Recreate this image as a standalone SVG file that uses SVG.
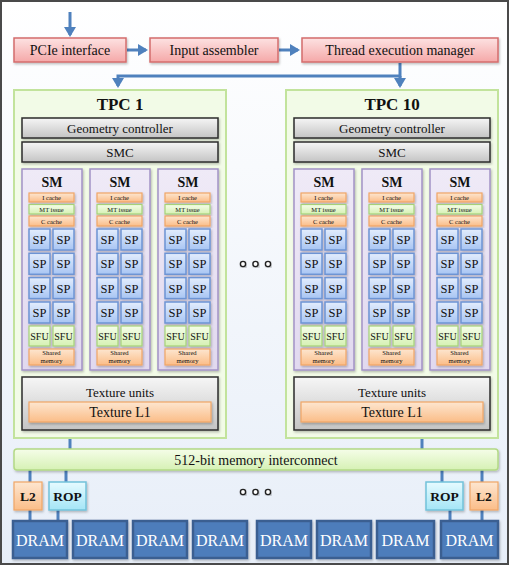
<svg xmlns="http://www.w3.org/2000/svg" width="509" height="565" viewBox="0 0 509 565">
<defs>
<linearGradient id="gBg" x1="0" y1="0" x2="0" y2="1"><stop offset="0" stop-color="#ffffff"/><stop offset="1" stop-color="#e7eef8"/></linearGradient>
<linearGradient id="gPink" x1="0" y1="0" x2="0" y2="1"><stop offset="0" stop-color="#fde2e2"/><stop offset="1" stop-color="#f5a8a8"/></linearGradient>
<linearGradient id="gGray" x1="0" y1="0" x2="0" y2="1"><stop offset="0" stop-color="#f6f6f6"/><stop offset="1" stop-color="#c4c4c4"/></linearGradient>
<linearGradient id="gOrange" x1="0" y1="0" x2="0" y2="1"><stop offset="0" stop-color="#fde6d0"/><stop offset="1" stop-color="#fbbd88"/></linearGradient>
<linearGradient id="gGreen" x1="0" y1="0" x2="0" y2="1"><stop offset="0" stop-color="#f5fde9"/><stop offset="1" stop-color="#d6f1b4"/></linearGradient>
<linearGradient id="gBlue" x1="0" y1="0" x2="0" y2="1"><stop offset="0" stop-color="#e3edfd"/><stop offset="1" stop-color="#a8c5f3"/></linearGradient>
<linearGradient id="gCyan" x1="0" y1="0" x2="0" y2="1"><stop offset="0" stop-color="#e6fbff"/><stop offset="1" stop-color="#a4e5f6"/></linearGradient>
<linearGradient id="gSm" x1="0" y1="0" x2="0" y2="1"><stop offset="0" stop-color="#efeaf7"/><stop offset="1" stop-color="#e1d9ef"/></linearGradient>
<filter id="sh" x="-20%" y="-20%" width="140%" height="140%"><feDropShadow dx="1" dy="1.5" stdDeviation="1" flood-color="#000" flood-opacity="0.25"/></filter>
<marker id="arr" markerUnits="userSpaceOnUse" markerWidth="12" markerHeight="12" refX="8" refY="6" orient="auto"><path d="M0,0 L10,6 L0,12 z" fill="#4f81bd"/></marker>
<style>
text{font-family:"Liberation Serif","Times New Roman",serif;text-anchor:middle;fill:#111}
.b{font-weight:bold}
.pink{fill:url(#gPink);stroke:#d46c6c;stroke-width:1.5;filter:url(#sh)}
.tpc{fill:#f2fbe7;stroke:#c2e39c;stroke-width:2}
.gray{fill:url(#gGray);stroke:#2b2b2b;stroke-width:1.5;filter:url(#sh)}
.sm{fill:url(#gSm);stroke:#a292c6;stroke-width:1.5;filter:url(#sh)}
.or{fill:url(#gOrange);stroke:#f0a666;stroke-width:1.2;filter:url(#sh)}
.gr{fill:url(#gGreen);stroke:#a6d278;stroke-width:1.2;filter:url(#sh)}
.sp{fill:url(#gBlue);stroke:#6d94d4;stroke-width:1.5;filter:url(#sh)}
.rop{fill:url(#gCyan);stroke:#72c2da;stroke-width:1.5;filter:url(#sh)}
.dram{fill:#4e7dbb;stroke:#3b5f91;stroke-width:2.5;filter:url(#sh)}
.ic{fill:url(#gGreen);stroke:#b3d985;stroke-width:1.5;filter:url(#sh)}
.conn{stroke:#4f81bd;stroke-width:3;fill:none}
.dot{fill:#fff;stroke:#222;stroke-width:1.4;filter:url(#sh)}
.t14{font-size:14px}
.t13{font-size:13px}
.tc{font-size:6.5px}
.tsp{font-size:12.5px}
.tsfu{font-size:10px}
.tsh{font-size:6.6px}
.dt{font-size:16px;fill:#fff}
</style>
</defs>
<rect x="1" y="1" width="507" height="563" fill="url(#gBg)" stroke="#4a4a4a" stroke-width="2"/>

<g id="connectors">
<line class="conn" x1="70" y1="12" x2="70" y2="35" marker-end="url(#arr)"/>
<line class="conn" x1="127" y1="50" x2="146" y2="50" marker-end="url(#arr)"/>
<line class="conn" x1="279" y1="50" x2="298" y2="50" marker-end="url(#arr)"/>
<path class="conn" d="M400,63 V76 H118 V86" marker-end="url(#arr)"/>
<line class="conn" x1="400" y1="76" x2="400" y2="86" marker-end="url(#arr)"/>
<line class="conn" x1="70" y1="438" x2="70" y2="450"/>
<line class="conn" x1="422" y1="438" x2="422" y2="450"/>
<line class="conn" x1="30" y1="470" x2="30" y2="482"/>
<line class="conn" x1="66" y1="470" x2="66" y2="482"/>
<line class="conn" x1="30" y1="510" x2="30" y2="521"/>
<line class="conn" x1="58" y1="510" x2="58" y2="521"/>
<line class="conn" x1="442" y1="470" x2="442" y2="482"/>
<line class="conn" x1="482" y1="470" x2="482" y2="482"/>
<line class="conn" x1="450" y1="510" x2="450" y2="521"/>
<line class="conn" x1="482" y1="510" x2="482" y2="521"/>
</g>

<g id="pcie"><rect class="pink" x="14" y="38" width="112" height="24"/><text class="t14" x="70" y="55">PCIe interface</text></g>
<g id="input-assembler"><rect class="pink" x="150" y="38" width="128" height="24"/><text class="t14" x="214" y="55">Input assembler</text></g>
<g id="thread-manager"><rect class="pink" x="302" y="38" width="196" height="24"/><text class="t14" x="400" y="55">Thread execution manager</text></g>

<g id="tpc1">
<rect class="tpc" x="14" y="90" width="212" height="348"/>
<text class="b" x="120" y="110" font-size="17">TPC 1</text>
<rect class="gray" x="22" y="118" width="196" height="20"/><text class="t13" x="120" y="133">Geometry controller</text>
<rect class="gray" x="22" y="142" width="196" height="20"/><text class="t13" x="120" y="157">SMC</text>
<rect class="gray" x="22" y="377" width="196" height="53"/><text class="t13" x="120" y="397">Texture units</text>
<rect class="or" x="29" y="402" width="182" height="20"/><text class="t14" x="120" y="417">Texture L1</text>
</g>

<g id="tpc10">
<rect class="tpc" x="286" y="90" width="212" height="348"/>
<text class="b" x="392" y="110" font-size="17">TPC 10</text>
<rect class="gray" x="294" y="118" width="196" height="20"/><text class="t13" x="392" y="133">Geometry controller</text>
<rect class="gray" x="294" y="142" width="196" height="20"/><text class="t13" x="392" y="157">SMC</text>
<rect class="gray" x="294" y="377" width="196" height="53"/><text class="t13" x="392" y="397">Texture units</text>
<rect class="or" x="301" y="402" width="182" height="20"/><text class="t14" x="392" y="417">Texture L1</text>
</g>

<g id="sm-1-1" transform="translate(22,0)">
<rect class="sm" x="0" y="169" width="60" height="201"/>
<text class="b" x="30" y="187" font-size="14">SM</text>
<rect class="or" x="7" y="193" width="45" height="9"/><text class="tc" x="29.5" y="200">I cache</text>
<rect class="gr" x="7" y="204.5" width="45" height="9.5"/><text class="tc" x="29.5" y="211.5">MT issue</text>
<rect class="or" x="7" y="216" width="45" height="10"/><text class="tc" x="29.5" y="223.5">C cache</text>
<rect class="sp" x="7" y="229" width="21" height="21"/><text class="tsp" x="17.5" y="244">SP</text>
<rect class="sp" x="31" y="229" width="21" height="21"/><text class="tsp" x="41.5" y="244">SP</text>
<rect class="sp" x="7" y="253.3" width="21" height="21"/><text class="tsp" x="17.5" y="268.3">SP</text>
<rect class="sp" x="31" y="253.3" width="21" height="21"/><text class="tsp" x="41.5" y="268.3">SP</text>
<rect class="sp" x="7" y="277.6" width="21" height="21"/><text class="tsp" x="17.5" y="292.6">SP</text>
<rect class="sp" x="31" y="277.6" width="21" height="21"/><text class="tsp" x="41.5" y="292.6">SP</text>
<rect class="sp" x="7" y="302" width="21" height="21"/><text class="tsp" x="17.5" y="317">SP</text>
<rect class="sp" x="31" y="302" width="21" height="21"/><text class="tsp" x="41.5" y="317">SP</text>
<rect class="gr" x="7" y="326" width="21" height="20"/><text class="tsfu" x="17.5" y="340">SFU</text>
<rect class="gr" x="31" y="326" width="21" height="20"/><text class="tsfu" x="41.5" y="340">SFU</text>
<rect class="or" x="7" y="349" width="45" height="16"/><text class="tsh" x="29.5" y="355.3">Shared</text><text class="tsh" x="29.5" y="363">memory</text>
</g>

<g id="sm-1-2" transform="translate(90,0)">
<rect class="sm" x="0" y="169" width="60" height="201"/>
<text class="b" x="30" y="187" font-size="14">SM</text>
<rect class="or" x="7" y="193" width="45" height="9"/><text class="tc" x="29.5" y="200">I cache</text>
<rect class="gr" x="7" y="204.5" width="45" height="9.5"/><text class="tc" x="29.5" y="211.5">MT issue</text>
<rect class="or" x="7" y="216" width="45" height="10"/><text class="tc" x="29.5" y="223.5">C cache</text>
<rect class="sp" x="7" y="229" width="21" height="21"/><text class="tsp" x="17.5" y="244">SP</text>
<rect class="sp" x="31" y="229" width="21" height="21"/><text class="tsp" x="41.5" y="244">SP</text>
<rect class="sp" x="7" y="253.3" width="21" height="21"/><text class="tsp" x="17.5" y="268.3">SP</text>
<rect class="sp" x="31" y="253.3" width="21" height="21"/><text class="tsp" x="41.5" y="268.3">SP</text>
<rect class="sp" x="7" y="277.6" width="21" height="21"/><text class="tsp" x="17.5" y="292.6">SP</text>
<rect class="sp" x="31" y="277.6" width="21" height="21"/><text class="tsp" x="41.5" y="292.6">SP</text>
<rect class="sp" x="7" y="302" width="21" height="21"/><text class="tsp" x="17.5" y="317">SP</text>
<rect class="sp" x="31" y="302" width="21" height="21"/><text class="tsp" x="41.5" y="317">SP</text>
<rect class="gr" x="7" y="326" width="21" height="20"/><text class="tsfu" x="17.5" y="340">SFU</text>
<rect class="gr" x="31" y="326" width="21" height="20"/><text class="tsfu" x="41.5" y="340">SFU</text>
<rect class="or" x="7" y="349" width="45" height="16"/><text class="tsh" x="29.5" y="355.3">Shared</text><text class="tsh" x="29.5" y="363">memory</text>
</g>

<g id="sm-1-3" transform="translate(158,0)">
<rect class="sm" x="0" y="169" width="60" height="201"/>
<text class="b" x="30" y="187" font-size="14">SM</text>
<rect class="or" x="7" y="193" width="45" height="9"/><text class="tc" x="29.5" y="200">I cache</text>
<rect class="gr" x="7" y="204.5" width="45" height="9.5"/><text class="tc" x="29.5" y="211.5">MT issue</text>
<rect class="or" x="7" y="216" width="45" height="10"/><text class="tc" x="29.5" y="223.5">C cache</text>
<rect class="sp" x="7" y="229" width="21" height="21"/><text class="tsp" x="17.5" y="244">SP</text>
<rect class="sp" x="31" y="229" width="21" height="21"/><text class="tsp" x="41.5" y="244">SP</text>
<rect class="sp" x="7" y="253.3" width="21" height="21"/><text class="tsp" x="17.5" y="268.3">SP</text>
<rect class="sp" x="31" y="253.3" width="21" height="21"/><text class="tsp" x="41.5" y="268.3">SP</text>
<rect class="sp" x="7" y="277.6" width="21" height="21"/><text class="tsp" x="17.5" y="292.6">SP</text>
<rect class="sp" x="31" y="277.6" width="21" height="21"/><text class="tsp" x="41.5" y="292.6">SP</text>
<rect class="sp" x="7" y="302" width="21" height="21"/><text class="tsp" x="17.5" y="317">SP</text>
<rect class="sp" x="31" y="302" width="21" height="21"/><text class="tsp" x="41.5" y="317">SP</text>
<rect class="gr" x="7" y="326" width="21" height="20"/><text class="tsfu" x="17.5" y="340">SFU</text>
<rect class="gr" x="31" y="326" width="21" height="20"/><text class="tsfu" x="41.5" y="340">SFU</text>
<rect class="or" x="7" y="349" width="45" height="16"/><text class="tsh" x="29.5" y="355.3">Shared</text><text class="tsh" x="29.5" y="363">memory</text>
</g>

<g id="sm-10-1" transform="translate(294,0)">
<rect class="sm" x="0" y="169" width="60" height="201"/>
<text class="b" x="30" y="187" font-size="14">SM</text>
<rect class="or" x="7" y="193" width="45" height="9"/><text class="tc" x="29.5" y="200">I cache</text>
<rect class="gr" x="7" y="204.5" width="45" height="9.5"/><text class="tc" x="29.5" y="211.5">MT issue</text>
<rect class="or" x="7" y="216" width="45" height="10"/><text class="tc" x="29.5" y="223.5">C cache</text>
<rect class="sp" x="7" y="229" width="21" height="21"/><text class="tsp" x="17.5" y="244">SP</text>
<rect class="sp" x="31" y="229" width="21" height="21"/><text class="tsp" x="41.5" y="244">SP</text>
<rect class="sp" x="7" y="253.3" width="21" height="21"/><text class="tsp" x="17.5" y="268.3">SP</text>
<rect class="sp" x="31" y="253.3" width="21" height="21"/><text class="tsp" x="41.5" y="268.3">SP</text>
<rect class="sp" x="7" y="277.6" width="21" height="21"/><text class="tsp" x="17.5" y="292.6">SP</text>
<rect class="sp" x="31" y="277.6" width="21" height="21"/><text class="tsp" x="41.5" y="292.6">SP</text>
<rect class="sp" x="7" y="302" width="21" height="21"/><text class="tsp" x="17.5" y="317">SP</text>
<rect class="sp" x="31" y="302" width="21" height="21"/><text class="tsp" x="41.5" y="317">SP</text>
<rect class="gr" x="7" y="326" width="21" height="20"/><text class="tsfu" x="17.5" y="340">SFU</text>
<rect class="gr" x="31" y="326" width="21" height="20"/><text class="tsfu" x="41.5" y="340">SFU</text>
<rect class="or" x="7" y="349" width="45" height="16"/><text class="tsh" x="29.5" y="355.3">Shared</text><text class="tsh" x="29.5" y="363">memory</text>
</g>

<g id="sm-10-2" transform="translate(362,0)">
<rect class="sm" x="0" y="169" width="60" height="201"/>
<text class="b" x="30" y="187" font-size="14">SM</text>
<rect class="or" x="7" y="193" width="45" height="9"/><text class="tc" x="29.5" y="200">I cache</text>
<rect class="gr" x="7" y="204.5" width="45" height="9.5"/><text class="tc" x="29.5" y="211.5">MT issue</text>
<rect class="or" x="7" y="216" width="45" height="10"/><text class="tc" x="29.5" y="223.5">C cache</text>
<rect class="sp" x="7" y="229" width="21" height="21"/><text class="tsp" x="17.5" y="244">SP</text>
<rect class="sp" x="31" y="229" width="21" height="21"/><text class="tsp" x="41.5" y="244">SP</text>
<rect class="sp" x="7" y="253.3" width="21" height="21"/><text class="tsp" x="17.5" y="268.3">SP</text>
<rect class="sp" x="31" y="253.3" width="21" height="21"/><text class="tsp" x="41.5" y="268.3">SP</text>
<rect class="sp" x="7" y="277.6" width="21" height="21"/><text class="tsp" x="17.5" y="292.6">SP</text>
<rect class="sp" x="31" y="277.6" width="21" height="21"/><text class="tsp" x="41.5" y="292.6">SP</text>
<rect class="sp" x="7" y="302" width="21" height="21"/><text class="tsp" x="17.5" y="317">SP</text>
<rect class="sp" x="31" y="302" width="21" height="21"/><text class="tsp" x="41.5" y="317">SP</text>
<rect class="gr" x="7" y="326" width="21" height="20"/><text class="tsfu" x="17.5" y="340">SFU</text>
<rect class="gr" x="31" y="326" width="21" height="20"/><text class="tsfu" x="41.5" y="340">SFU</text>
<rect class="or" x="7" y="349" width="45" height="16"/><text class="tsh" x="29.5" y="355.3">Shared</text><text class="tsh" x="29.5" y="363">memory</text>
</g>

<g id="sm-10-3" transform="translate(430,0)">
<rect class="sm" x="0" y="169" width="60" height="201"/>
<text class="b" x="30" y="187" font-size="14">SM</text>
<rect class="or" x="7" y="193" width="45" height="9"/><text class="tc" x="29.5" y="200">I cache</text>
<rect class="gr" x="7" y="204.5" width="45" height="9.5"/><text class="tc" x="29.5" y="211.5">MT issue</text>
<rect class="or" x="7" y="216" width="45" height="10"/><text class="tc" x="29.5" y="223.5">C cache</text>
<rect class="sp" x="7" y="229" width="21" height="21"/><text class="tsp" x="17.5" y="244">SP</text>
<rect class="sp" x="31" y="229" width="21" height="21"/><text class="tsp" x="41.5" y="244">SP</text>
<rect class="sp" x="7" y="253.3" width="21" height="21"/><text class="tsp" x="17.5" y="268.3">SP</text>
<rect class="sp" x="31" y="253.3" width="21" height="21"/><text class="tsp" x="41.5" y="268.3">SP</text>
<rect class="sp" x="7" y="277.6" width="21" height="21"/><text class="tsp" x="17.5" y="292.6">SP</text>
<rect class="sp" x="31" y="277.6" width="21" height="21"/><text class="tsp" x="41.5" y="292.6">SP</text>
<rect class="sp" x="7" y="302" width="21" height="21"/><text class="tsp" x="17.5" y="317">SP</text>
<rect class="sp" x="31" y="302" width="21" height="21"/><text class="tsp" x="41.5" y="317">SP</text>
<rect class="gr" x="7" y="326" width="21" height="20"/><text class="tsfu" x="17.5" y="340">SFU</text>
<rect class="gr" x="31" y="326" width="21" height="20"/><text class="tsfu" x="41.5" y="340">SFU</text>
<rect class="or" x="7" y="349" width="45" height="16"/><text class="tsh" x="29.5" y="355.3">Shared</text><text class="tsh" x="29.5" y="363">memory</text>
</g>

<g id="ellipsis-tpc">
<circle class="dot" cx="243" cy="264" r="2.6"/><circle class="dot" cx="255.5" cy="264" r="2.6"/><circle class="dot" cx="268" cy="264" r="2.6"/>
</g>

<g id="interconnect"><rect class="ic" x="14" y="449" width="484" height="21" rx="3"/><text class="t14" x="256" y="465">512-bit memory interconnect</text></g>

<g id="l2-left"><rect class="or" x="14" y="482" width="28" height="28"/><text class="b" x="28" y="501" font-size="13.5">L2</text></g>
<g id="rop-left"><rect class="rop" x="49" y="482" width="37" height="28"/><text class="b" x="67.5" y="501" font-size="13.5">ROP</text></g>
<g id="rop-right"><rect class="rop" x="426" y="482" width="37" height="28"/><text class="b" x="444.5" y="501" font-size="13.5">ROP</text></g>
<g id="l2-right"><rect class="or" x="470" y="482" width="28" height="28"/><text class="b" x="484" y="501" font-size="13.5">L2</text></g>

<g id="ellipsis-mem">
<circle class="dot" cx="243" cy="492" r="2.6"/><circle class="dot" cx="255.5" cy="492" r="2.6"/><circle class="dot" cx="268" cy="492" r="2.6"/>
</g>

<g id="dram-1"><rect class="dram" x="13" y="521" width="54" height="37"/><text class="dt" x="40" y="546">DRAM</text></g>
<g id="dram-2"><rect class="dram" x="73" y="521" width="54" height="37"/><text class="dt" x="100" y="546">DRAM</text></g>
<g id="dram-3"><rect class="dram" x="133" y="521" width="54" height="37"/><text class="dt" x="160" y="546">DRAM</text></g>
<g id="dram-4"><rect class="dram" x="193" y="521" width="54" height="37"/><text class="dt" x="220" y="546">DRAM</text></g>
<g id="dram-5"><rect class="dram" x="257" y="521" width="54" height="37"/><text class="dt" x="284" y="546">DRAM</text></g>
<g id="dram-6"><rect class="dram" x="317" y="521" width="54" height="37"/><text class="dt" x="344" y="546">DRAM</text></g>
<g id="dram-7"><rect class="dram" x="377" y="521" width="57" height="37"/><text class="dt" x="405.5" y="546">DRAM</text></g>
<g id="dram-8"><rect class="dram" x="441" y="521" width="57" height="37"/><text class="dt" x="469.5" y="546">DRAM</text></g>
</svg>
